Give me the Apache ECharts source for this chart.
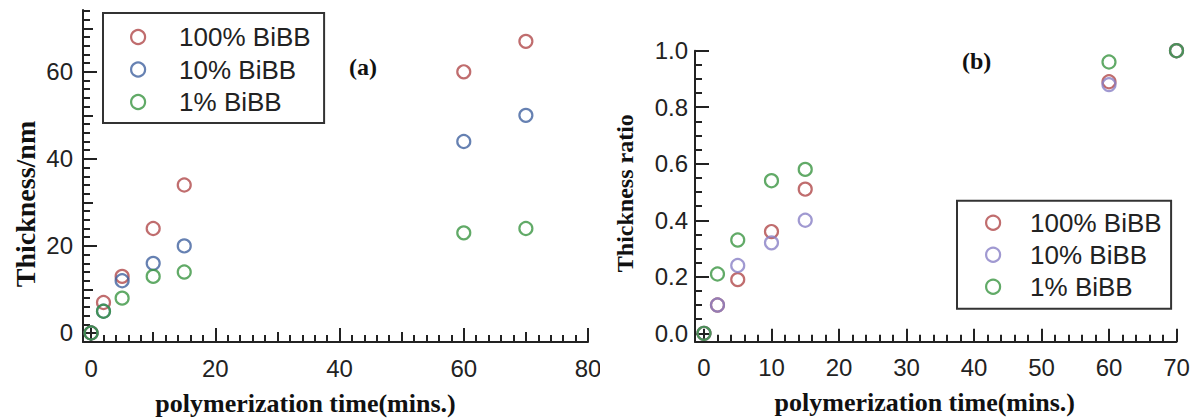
<!DOCTYPE html>
<html>
<head>
<meta charset="utf-8">
<script src="https://cdn.jsdelivr.net/npm/echarts@6/dist/echarts.min.js"></script>
<style>
  html, body { margin: 0; padding: 0; background: #fff; }
  #wrap { position: relative; width: 1199px; height: 418px; }
  #chartA { position: absolute; left: 0; top: 0; width: 600px; height: 418px; }
  #chartB { position: absolute; left: 600px; top: 0; width: 599px; height: 418px; }
</style>
</head>
<body>
<div id="wrap">
  <div id="chartA"></div>
  <div id="chartB"></div>
</div>
<script>
// Polymerization times (minutes)
const timeMin = [0, 2, 5, 10, 15, 60, 70];

// (a) brush thickness in nm
const thick100 = [0, 7, 13, 24, 34, 60, 67];
const thick10 = [0, 5, 12, 16, 20, 44, 50];
const thick1 = [0, 5, 8, 13, 14, 23, 24];

// (b) thickness normalised to the 70 min value
const ratio100 = [0, 0.10, 0.19, 0.36, 0.51, 0.89, 1.0];
const ratio10 = [0, 0.10, 0.24, 0.32, 0.40, 0.88, 1.0];
const ratio1 = [0, 0.21, 0.33, 0.54, 0.58, 0.96, 1.0];

const seriesNames = ['100% BiBB', '10% BiBB', '1% BiBB'];

// Tick ladders: [first, last, step] for each tick level
const aXMajor = [0, 80, 20], aXMid = [10, 70, 20], aXMinor = [0, 80, 2];
const aYMajor = [0, 60, 20], aYMid = [10, 70, 20], aYMinor = [0, 74, 2];
const bXMajor = [0, 70, 10], bXMinor = [0, 70, 2];
const bYMajor = [0, 1, 0.2], bYMinor = [0, 1, 0.05];

const INK = '#222';
const SANS = "'Liberation Sans', Arial, sans-serif";
const SERIF = "'Liberation Serif', 'Times New Roman', serif";

const colA = ['#b0484a', '#40619f', '#3a9541'];
const colB = ['#b0484a', '#8880c6', '#3a9541'];

function pairs(xs, ys) { return xs.map((x, i) => [x, ys[i]]); }

// Plot frame: the data grid; the tick grids are sub-rectangles of it
// mapped through the same scale, so each tick ladder starts on its own min.
function subGrid(frame, xr, yr) {
  const sx = frame.width / (frame.x[1] - frame.x[0]);
  const sy = frame.height / (frame.y[1] - frame.y[0]);
  const rect = {
    left: frame.left + (xr[0] - frame.x[0]) * sx,
    width: (xr[1] - xr[0]) * sx,
    top: frame.top + (frame.y[1] - yr[1]) * sy,
    height: (yr[1] - yr[0]) * sy,
    outerBoundsMode: 'none'
  };
  return {
    rect: rect,
    xOffset: (frame.top + frame.height) - (rect.top + rect.height),
    yOffset: rect.left - frame.left
  };
}

function buildLayers(frame, levels) {
  const grids = [{
    left: frame.left, top: frame.top, width: frame.width, height: frame.height,
    outerBoundsMode: 'none'
  }];
  const xAxes = [{
    type: 'value', gridIndex: 0, min: frame.x[0], max: frame.x[1],
    splitLine: { show: false },
    axisLine: { show: true, onZero: false, lineStyle: { color: INK, width: 2 } },
    axisTick: { show: false }, axisLabel: { show: false },
    name: frame.xName, nameLocation: 'middle', nameGap: frame.xNameGap,
    nameTextStyle: { fontFamily: SERIF, fontWeight: 'bold', fontSize: frame.xNameSize, color: '#111', padding: frame.xNamePad }
  }];
  const yAxes = [{
    type: 'value', gridIndex: 0, min: frame.y[0], max: frame.y[1],
    splitLine: { show: false },
    axisLine: { show: true, onZero: false, lineStyle: { color: INK, width: 2 } },
    axisTick: { show: false }, axisLabel: { show: false },
    name: frame.yName, nameLocation: 'middle', nameGap: frame.yNameGap,
    nameTextStyle: { fontFamily: SERIF, fontWeight: 'bold', fontSize: frame.yNameSize, color: '#111', padding: frame.yNamePad }
  }];
  levels.forEach(lv => {
    const g = subGrid(frame, [lv.x[0], lv.x[1]], [lv.y[0], lv.y[1]]);
    const gi = grids.length;
    grids.push(g.rect);
    const common = {
      type: 'value', gridIndex: gi,
      splitLine: { show: false },
      axisLine: { show: false, onZero: false }
    };
    xAxes.push(Object.assign({}, common, {
      position: 'bottom', offset: g.xOffset,
      min: lv.x[0], max: lv.x[1], interval: lv.x[2],
      axisTick: { show: true, inside: true, length: lv.len, lineStyle: { color: INK, width: 2 } },
      axisLabel: lv.labels
        ? { show: true, margin: frame.xLabelMargin, color: INK, fontFamily: SANS, fontSize: 24 }
        : { show: false }
    }));
    yAxes.push(Object.assign({}, common, {
      position: 'left', offset: g.yOffset,
      min: lv.y[0], max: lv.y[1], interval: lv.y[2],
      axisTick: { show: true, inside: true, length: lv.lenY || lv.len, lineStyle: { color: INK, width: 2 } },
      axisLabel: lv.labels
        ? { show: true, margin: frame.yLabelMargin, color: INK, fontFamily: SANS, fontSize: 24,
            formatter: frame.yFormat }
        : { show: false }
    }));
  });
  return { grid: grids, xAxis: xAxes, yAxis: yAxes };
}

function scatterSeries(name, data, color) {
  return {
    type: 'scatter', name: name, data: data, xAxisIndex: 0, yAxisIndex: 0,
    symbol: 'circle', symbolSize: 13,
    itemStyle: { color: 'rgba(0,0,0,0)', borderColor: color, borderWidth: 2.2 },
    emphasis: { disabled: true },
    clip: false
  };
}

function legendOpt(pos, colors, pad, textPad, textWidth, gap) {
  return {
    orient: 'vertical',
    left: pos.left, top: pos.top,
    padding: pad,
    itemGap: gap,
    itemWidth: 14, itemHeight: 14,
    borderColor: '#333', borderWidth: 2,
    selectedMode: false,
    textStyle: {
      fontFamily: SANS, fontSize: 26, color: INK,
      lineHeight: 24, padding: [0, 0, 0, textPad], width: textWidth
    },
    data: seriesNames.map((n, i) => ({
      name: n, icon: 'circle',
      itemStyle: { color: 'rgba(0,0,0,0)', borderColor: colors[i], borderWidth: 2.2 }
    }))
  };
}

// ---- (a) thickness vs time ----
const frameA = {
  left: 83, top: 10, width: 505, height: 332,
  x: [-1.3, 80], y: [-2.07, 74.2],
  xName: 'polymerization time(mins.)', xNameGap: 48, xNameSize: 26, xNamePad: [0, 60, 0, 0],
  yName: 'Thickness/nm', yNameGap: 44, yNameSize: 28, yNamePad: [0, 56, 0, 0],
  xLabelMargin: 14, yLabelMargin: 10
};
const layersA = buildLayers(frameA, [
  { x: aXMinor, y: aYMinor, len: 7 },
  { x: aXMid, y: aYMid, len: 10 },
  { x: aXMajor, y: aYMajor, len: 14, labels: true }
]);
const chartA = echarts.init(document.getElementById('chartA'), null, { renderer: 'svg' });
chartA.setOption(Object.assign({
  animation: false,
  title: {
    text: '(a)', left: 344, top: 50,
    textStyle: { fontFamily: SERIF, fontWeight: 'bold', fontSize: 24, color: '#111' }
  },
  legend: legendOpt({ left: 103, top: 13 }, colA, [11, 5, 8, 27], 29, 140, 6.5),
  series: [
    scatterSeries(seriesNames[0], pairs(timeMin, thick100), colA[0]),
    scatterSeries(seriesNames[1], pairs(timeMin, thick10), colA[1]),
    scatterSeries(seriesNames[2], pairs(timeMin, thick1), colA[2])
  ]
}, layersA));

// ---- (b) thickness ratio vs time ----
const frameB = {
  left: 95, top: 50.7, width: 481.5, height: 291,
  x: [-1.33, 70], y: [-0.0297, 1.0],
  xName: 'polymerization time(mins.)', xNameGap: 48, xNameSize: 26, xNamePad: [0, 22, 0, 0],
  yName: 'Thickness ratio', yNameGap: 58, yNameSize: 24, yNamePad: [0, 0, 0, 6],
  xLabelMargin: 14, yLabelMargin: 7,
  yFormat: v => v.toFixed(1)
};
const layersB = buildLayers(frameB, [
  { x: bXMinor, y: bYMinor, len: 7 },
  { x: bXMajor, y: bYMajor, len: 13, lenY: 14, labels: true }
]);
const chartB = echarts.init(document.getElementById('chartB'), null, { renderer: 'svg' });
chartB.setOption(Object.assign({
  animation: false,
  title: {
    text: '(b)', left: 357, top: 44,
    textStyle: { fontFamily: SERIF, fontWeight: 'bold', fontSize: 24, color: '#111' }
  },
  legend: legendOpt({ left: 357, top: 200.7 }, colB, [9, 5, 9, 28], 25, 136, 6),
  series: [
    scatterSeries(seriesNames[0], pairs(timeMin, ratio100), colB[0]),
    scatterSeries(seriesNames[1], pairs(timeMin, ratio10), colB[1]),
    scatterSeries(seriesNames[2], pairs(timeMin, ratio1), colB[2])
  ]
}, layersB));
</script>
</body>
</html>
